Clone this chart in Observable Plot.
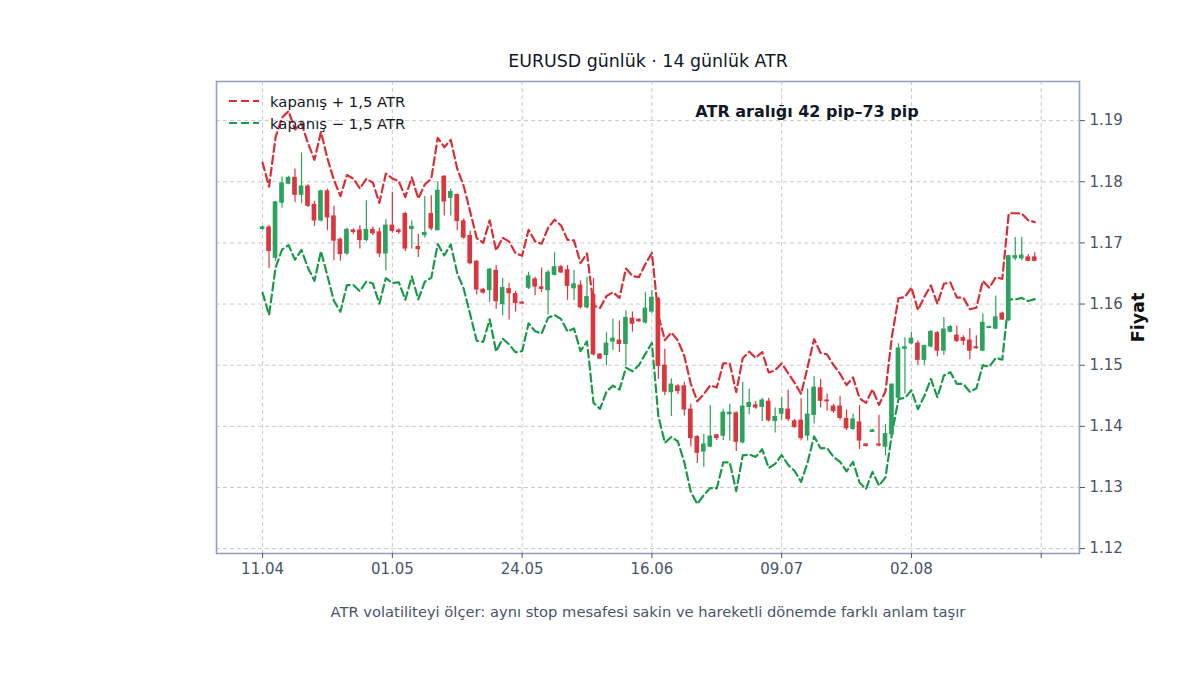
<!DOCTYPE html>
<html><head><meta charset="utf-8">
<script src="https://cdn.jsdelivr.net/npm/d3@7"></script>
<script src="https://cdn.jsdelivr.net/npm/@observablehq/plot@0.6"></script>
<style>
html,body{margin:0;padding:0;background:#fff;}
#wrap{position:relative;width:1200px;height:675px;font-family:"DejaVu Sans",sans-serif;}
#legend{position:absolute;left:229px;top:90px;font-size:14.8px;color:#111827;}
.item{display:flex;align-items:center;height:22px;white-space:nowrap;}
.item svg{margin-right:11px;}
</style></head><body><div id="wrap"><div id="legend"></div></div>
<script>
const title = "EURUSD günlük · 14 günlük ATR";
const caption = "ATR volatiliteyi ölçer: aynı stop mesafesi sakin ve hareketli dönemde farklı anlam taşır";
const seriesNames = ["kapanış + 1,5 ATR", "kapanış − 1,5 ATR"];
const tickIndex = [0, 20, 40, 60, 80, 100, 120];
const tickLabels = ["11.04", "01.05", "24.05", "16.06", "09.07", "02.08", ""];
const yTicks = [1.12, 1.13, 1.14, 1.15, 1.16, 1.17, 1.18, 1.19];

const open = [1.1723,1.1725,1.1676,1.1766,1.1797,1.1806,1.1779,1.1792,1.1762,1.1737,
1.1784,1.1743,1.1705,1.1683,1.1720,1.1720,1.1705,1.1721,1.1717,1.1683,
1.1728,1.1720,1.1747,1.1723,1.1693,1.1713,1.1747,1.1721,1.1808,1.1774,
1.1778,1.1735,1.1711,1.1669,1.1623,1.1623,1.1654,1.1600,1.1624,1.1616,
1.1602,1.1627,1.1640,1.1627,1.1623,1.1648,1.1660,1.1655,1.1626,1.1630,
1.1595,1.1615,1.1517,1.1517,1.1539,1.1540,1.1535,1.1576,1.1574,1.1570,
1.1588,1.1608,1.1499,1.1456,1.1465,1.1465,1.1427,1.1382,1.1359,1.1367,
1.1385,1.1385,1.1420,1.1421,1.1374,1.1432,1.1434,1.1432,1.1440,1.1409,
1.1421,1.1427,1.1408,1.1409,1.1385,1.1419,1.1462,1.1442,1.1432,1.1432,
1.1412,1.1396,1.1406,1.1370,1.1391,1.1370,1.1367,1.1387,1.1447,1.1527,
1.1536,1.1535,1.1509,1.1531,1.1552,1.1524,1.1555,1.1548,1.1544,1.1540,
1.1529,1.1524,1.1561,1.1560,1.1584,1.1574,1.1675,1.1675,1.1676,1.1676];

const high = [1.1728,1.1729,1.1768,1.1808,1.1809,1.1821,1.1847,1.1795,1.1768,1.1786,
1.1788,1.1760,1.1708,1.1724,1.1723,1.1728,1.1769,1.1726,1.1724,1.1738,
1.1783,1.1723,1.1750,1.1736,1.1714,1.1776,1.1777,1.1800,1.1810,1.1788,
1.1780,1.1739,1.1719,1.1671,1.1626,1.1658,1.1663,1.1642,1.1634,1.1621,
1.1604,1.1652,1.1644,1.1659,1.1655,1.1684,1.1663,1.1663,1.1655,1.1638,
1.1644,1.1642,1.1519,1.1553,1.1575,1.1572,1.1589,1.1587,1.1576,1.1619,
1.1622,1.1611,1.1526,1.1478,1.1468,1.1472,1.1436,1.1385,1.1387,1.1434,
1.1387,1.1428,1.1436,1.1424,1.1472,1.1461,1.1440,1.1446,1.1446,1.1430,
1.1447,1.1459,1.1411,1.1445,1.1461,1.1481,1.1477,1.1453,1.1436,1.1449,
1.1427,1.1420,1.1434,1.1372,1.1395,1.1418,1.1403,1.1469,1.1535,1.1545,
1.1554,1.1540,1.1533,1.1557,1.1555,1.1578,1.1565,1.1564,1.1548,1.1560,
1.1548,1.1584,1.1564,1.1613,1.1587,1.1680,1.1709,1.1709,1.1681,1.1684];

const low = [1.1721,1.1658,1.1670,1.1757,1.1795,1.1766,1.1764,1.1758,1.1727,1.1734,
1.1720,1.1671,1.1670,1.1679,1.1714,1.1690,1.1702,1.1712,1.1676,1.1654,
1.1716,1.1714,1.1686,1.1690,1.1676,1.1708,1.1720,1.1720,1.1744,1.1744,
1.1720,1.1706,1.1664,1.1615,1.1616,1.1603,1.1591,1.1581,1.1574,1.1587,
1.1599,1.1624,1.1614,1.1619,1.1582,1.1646,1.1650,1.1606,1.1606,1.1592,
1.1592,1.1515,1.1509,1.1499,1.1524,1.1521,1.1499,1.1554,1.1570,1.1567,
1.1585,1.1477,1.1450,1.1416,1.1452,1.1417,1.1366,1.1339,1.1333,1.1365,
1.1377,1.1377,1.1376,1.1359,1.1371,1.1419,1.1428,1.1408,1.1407,1.1389,
1.1410,1.1408,1.1397,1.1376,1.1376,1.1404,1.1430,1.1425,1.1421,1.1410,
1.1393,1.1393,1.1362,1.1366,1.1390,1.1366,1.1352,1.1385,1.1445,1.1453,
1.1533,1.1500,1.1500,1.1528,1.1514,1.1516,1.1553,1.1537,1.1532,1.1509,
1.1526,1.1522,1.1560,1.1558,1.1573,1.1571,1.1671,1.1671,1.1669,1.1669];

const close = [1.1725,1.1687,1.1766,1.1797,1.1806,1.1779,1.1792,1.1761,1.1737,1.1784,
1.1742,1.1704,1.1682,1.1721,1.1718,1.1705,1.1721,1.1716,1.1683,1.1728,
1.1720,1.1718,1.1691,1.1726,1.1690,1.1716,1.1724,1.1785,1.1768,1.1783,
1.1736,1.1709,1.1667,1.1624,1.1619,1.1656,1.1605,1.1626,1.1618,1.1602,
1.1601,1.1645,1.1629,1.1625,1.1651,1.1660,1.1652,1.1630,1.1632,1.1595,
1.1611,1.1518,1.1511,1.1535,1.1543,1.1535,1.1577,1.1568,1.1572,1.1592,
1.1610,1.1499,1.1457,1.1468,1.1458,1.1428,1.1381,1.1357,1.1370,1.1383,
1.1381,1.1422,1.1422,1.1375,1.1432,1.1438,1.1431,1.1442,1.1410,1.1415,
1.1428,1.1412,1.1399,1.1381,1.1419,1.1463,1.1442,1.1441,1.1425,1.1414,
1.1397,1.1411,1.1377,1.1368,1.1393,1.1369,1.1387,1.1468,1.1527,1.1529,
1.1543,1.1509,1.1531,1.1554,1.1524,1.1558,1.1562,1.1540,1.1540,1.1524,
1.1528,1.1569,1.1562,1.1578,1.1575,1.1678,1.1678,1.1679,1.1671,1.1671];

// 14-day ATR in pips
const atrPips = [71,70,71,72,73,71,69,68,66,65,
64,66,63,60,58,56,56,55,55,57,
57,55,56,54,55,53,54,58,59,57,
57,56,56,56,54,54,55,55,56,54,
52,51,49,49,49,52,51,50,48,48,
48,53,55,52,51,50,54,52,48,49,
49,55,56,57,55,58,59,56,55,56,
55,54,54,54,53,56,54,53,52,51,
50,50,48,48,52,53,52,51,50,48,
47,46,46,47,45,44,47,53,55,55,
56,54,54,51,51,50,49,47,47,45,
44,46,43,44,44,47,47,46,44,42];

const UP = "#2ca25f", DOWN = "#d9363e";
const BAND_UP = "#d62f35", BAND_DN = "#1a9a48";

const data = close.map((c, i) => ({
  i, o: open[i], h: high[i], l: low[i], c,
  up: c + 1.5 * atrPips[i] / 10000,
  dn: c - 1.5 * atrPips[i] / 10000,
  col: c >= open[i] ? UP : DOWN
}));

const annotation = `ATR aralığı ${d3.min(atrPips)} pip–${d3.max(atrPips)} pip`;

const chart = Plot.plot({
  width: 1200, height: 675,
  marginLeft: 216, marginRight: 121, marginTop: 81, marginBottom: 122,
  style: {fontFamily: "DejaVu Sans", fontSize: "15px", background: "#fff"},
  x: {type: "linear", domain: [-7.1, 125.9]},
  y: {domain: [1.1192, 1.1964]},
  color: {type: "identity"},
  marks: [
    Plot.gridX(tickIndex, {stroke: "#c9c9c9", strokeOpacity: 1, strokeDasharray: "4,3"}),
    Plot.gridY(yTicks, {stroke: "#c9c9c9", strokeOpacity: 1, strokeDasharray: "4,3"}),
    Plot.line(data, {x: "i", y: "up", stroke: BAND_UP, strokeWidth: 2.2, strokeDasharray: "8,4"}),
    Plot.line(data, {x: "i", y: "dn", stroke: BAND_DN, strokeWidth: 2.2, strokeDasharray: "8,4"}),
    Plot.ruleX(data, {x: "i", y1: "l", y2: "h", stroke: "col", strokeWidth: 1.2}),
    Plot.rect(data, {
      x1: d => d.i - 0.36, x2: d => d.i + 0.36,
      y1: d => Math.min(d.o, d.c), y2: d => Math.max(d.o, d.c),
      fill: "col", insetTop: -0.7, insetBottom: -0.7
    }),
    Plot.frame({stroke: "#94a3b8", strokeWidth: 1.6}),
    Plot.axisX(tickIndex, {
      tickFormat: d => tickLabels[tickIndex.indexOf(d)],
      tickSize: 5, tickPadding: 5, color: "#475569", fontSize: 15, label: null
    }),
    Plot.axisY(yTicks, {
      anchor: "right", tickFormat: d => d.toFixed(2),
      tickSize: 5, tickPadding: 5, color: "#475569", fontSize: 15, label: null
    }),
    Plot.text([title], {text: d => d, frameAnchor: "top", dy: -20, fontSize: 17.4, fill: "#111827", lineAnchor: "middle"}),
    Plot.text([annotation], {text: d => d, frameAnchor: "top", dx: 159, dy: 30, fontSize: 16, fontWeight: "bold", fill: "#111827", lineAnchor: "middle"}),
    Plot.text([caption], {text: d => d, frameAnchor: "bottom", dy: 59, fontSize: 14.7, fill: "#475569", lineAnchor: "middle"}),
    Plot.text(["Fiyat"], {text: d => d, frameAnchor: "right", dx: 59, rotate: -90, fontSize: 17.5, fontWeight: "bold", fill: "#111111", textAnchor: "middle", lineAnchor: "middle"})
  ]
});

const wrap = document.getElementById("wrap");
wrap.insertBefore(chart, wrap.firstChild);

const legend = document.getElementById("legend");
[[seriesNames[0], BAND_UP], [seriesNames[1], BAND_DN]].forEach(([name, col]) => {
  const row = document.createElement("div");
  row.className = "item";
  row.innerHTML = `<svg width="30" height="4"><line x1="0" y1="2" x2="30" y2="2" stroke="${col}" stroke-width="2.2" stroke-dasharray="8,4"/></svg><span>${name}</span>`;
  legend.appendChild(row);
});
</script></body></html>
